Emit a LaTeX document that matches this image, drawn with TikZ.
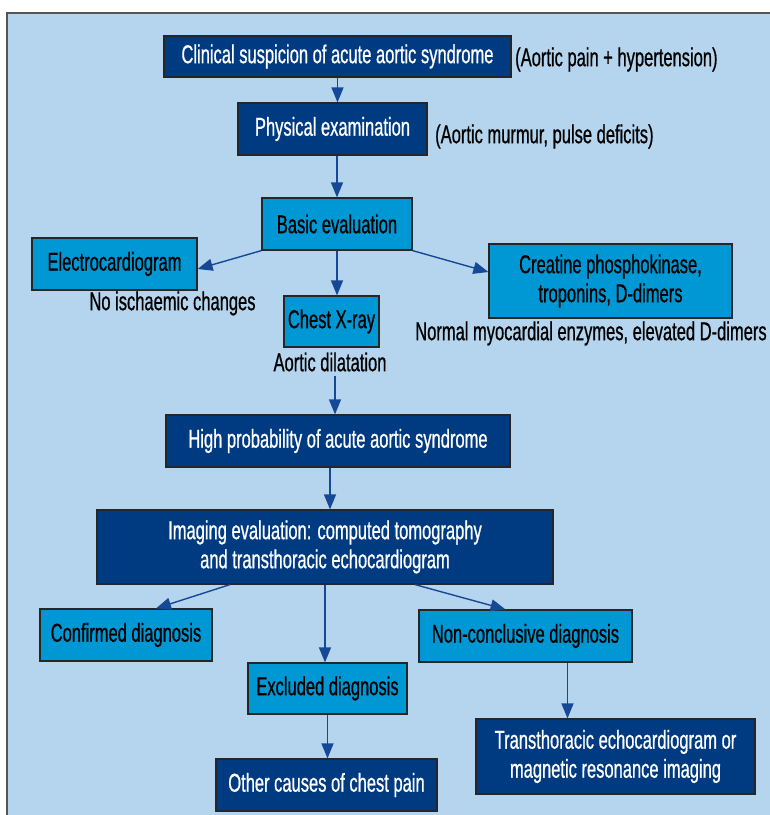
\documentclass[tikz,border=0pt]{standalone}
\usepackage{fontspec}
\setmainfont[FakeStretch=0.64,FakeBold=0.7]{Liberation Sans}
\usetikzlibrary{arrows.meta}
\definecolor{panelbg}{RGB}{180,213,237}
\definecolor{panelline}{RGB}{85,85,85}
\definecolor{boxdark}{RGB}{0,59,130}
\definecolor{boxlight}{RGB}{0,152,212}
\definecolor{arrowblue}{RGB}{22,72,150}
\newcommand\flowfont{\fontsize{25.8bp}{29bp}\selectfont}

\begin{document}
\begin{tikzpicture}[
    x=1bp, y=-1bp,
    box/.style={draw=black!85, line width=1.2bp, align=center, font=\flowfont, inner sep=0pt},
    dark/.style={box, fill=boxdark, text=white},
    light/.style={box, fill=boxlight, text=black},
    note/.style={font=\flowfont, inner sep=0pt},
    link/.style={draw=arrowblue, line width=1.4bp, -{Triangle[length=15bp,width=12bp]}}
]
\useasboundingbox (0,0) rectangle (770,815);
\clip (0,0) rectangle (770,815);
\draw[fill=panelbg, draw=panelline, line width=2bp] (7,13) rectangle (790,840);

\node[dark, minimum width=347bp, minimum height=41bp] (clin) at (337.5,56.5) {Clinical suspicion of acute aortic syndrome};
\node[note, anchor=west] (n1) at (515,59.5) {(Aortic pain + hypertension)};
\node[dark, minimum width=189bp, minimum height=52bp] (phys) at (332.5,129) {Physical examination};
\node[note, anchor=west] (n2) at (435,136.5) {(Aortic murmur, pulse deficits)};
\node[light, minimum width=150bp, minimum height=52bp] (base) at (337,224) {Basic evaluation};
\node[light, minimum width=165bp, minimum height=52bp] (ecg) at (114.5,264) {Electrocardiogram};
\node[note] (n3) at (172.5,303.5) {No ischaemic changes};
\node[light, minimum width=95bp, minimum height=51bp] (xr) at (331.5,321.5) {Chest X-ray};
\node[note] (n4) at (330,362) {Aortic dilatation};
\node[light, minimum width=243bp, minimum height=74bp] (cpk) at (610.5,281) {Creatine phosphokinase,\\ troponins, D-dimers};
\node[note] (n5) at (591,333.5) {Normal myocardial enzymes, elevated D-dimers};
\node[dark, minimum width=344bp, minimum height=52bp] (high) at (338,441) {High probability of acute aortic syndrome};
\node[dark, minimum width=456bp, minimum height=74bp] (img) at (325,547) {Imaging evaluation: computed tomography\\ and transthoracic echocardiogram};
\node[light, minimum width=172bp, minimum height=52bp] (conf) at (126,635) {Confirmed diagnosis};
\node[light, minimum width=159bp, minimum height=51bp] (excl) at (327.5,688.5) {Excluded diagnosis};
\node[dark, minimum width=221bp, minimum height=52bp] (oth) at (326.5,785) {Other causes of chest pain};
\node[light, minimum width=213bp, minimum height=52bp] (ncon) at (525.5,636) {Non-conclusive diagnosis};
\node[dark, minimum width=279bp, minimum height=75bp] (tte) at (615.5,756.5) {Transthoracic echocardiogram or\\ magnetic resonance imaging};

\draw[link] (clin.south) -- (clin.south |- phys.north);
\draw[link] (phys.south -| base) -- (base.north);
\draw[link] (base.south west) -- ([yshift=-5bp]ecg.east);
\draw[link] (base.south) -- (base.south |- xr.north);
\draw[link] (base.south east) -- ([yshift=9bp]cpk.west);
\draw[link] ([xshift=5bp,yshift=-4bp]n4.south) -- ([xshift=5bp]n4.south |- high.north);
\draw[link] ([xshift=-8bp]high.south) -- ([xshift=-8bp]high.south |- img.north);
\draw[link] ([xshift=-95bp]img.south) -- ([xshift=30bp]conf.north);
\draw[link] (img.south) -- (img.south |- excl.north);
\draw[link] ([xshift=90bp]img.south) -- ([xshift=-20bp]ncon.north);
\draw[link] (excl.south) -- (excl.south |- oth.north);
\draw[link] ([xshift=42bp]ncon.south) -- ([xshift=42bp]ncon.south |- tte.north);
\end{tikzpicture}
\end{document}
